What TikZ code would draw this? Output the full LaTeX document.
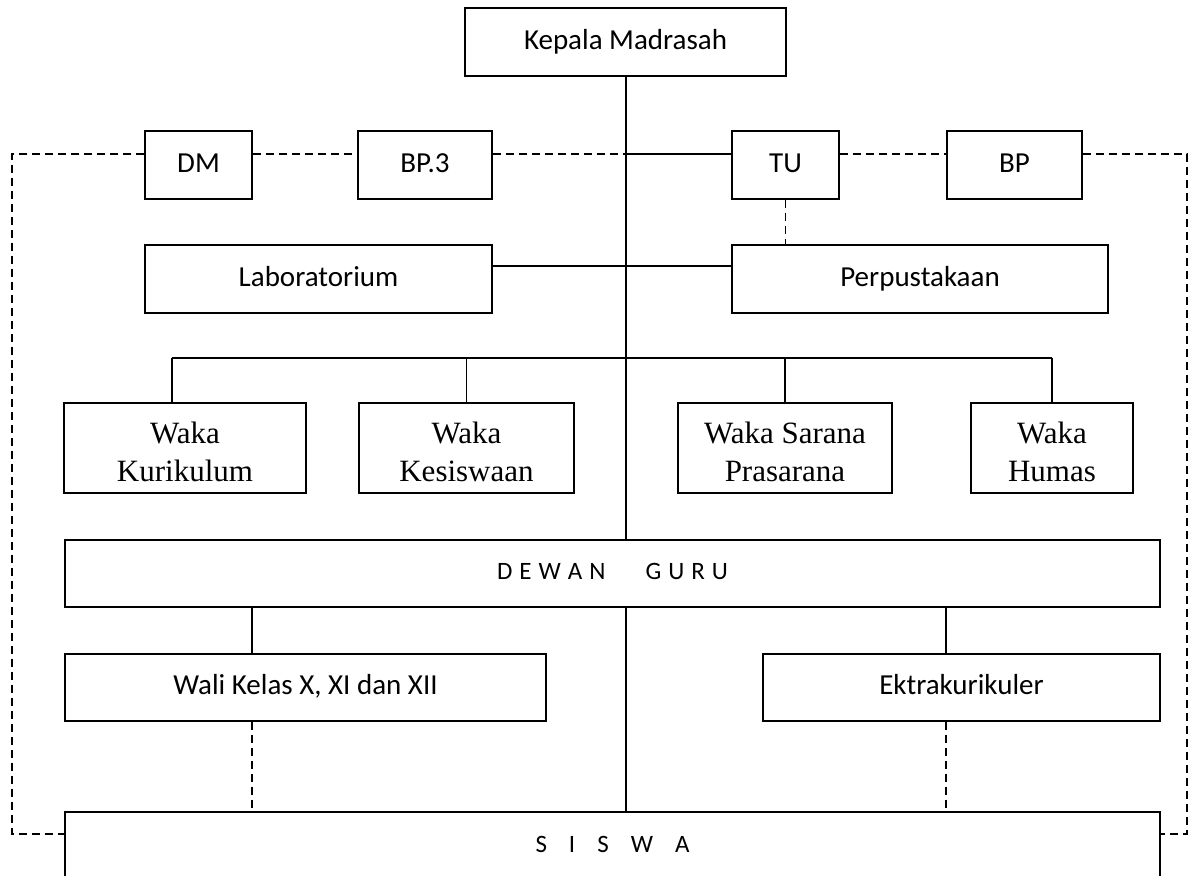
\documentclass[tikz,border=0pt]{standalone}
\usepackage{fontspec}
\setmainfont{Carlito}
\newfontfamily\tnr{Liberation Serif}
\newcommand{\wakatext}[2]{\rule{0pt}{30pt}#1\\#2}
\begin{document}
\begin{tikzpicture}[x=1pt,y=1pt,
  box/.style={draw, line width=1.3pt, inner sep=0pt, align=center,
    font=\fontsize{29}{35}\selectfont, text height=20pt, text depth=6pt},
  waka/.style={draw, line width=1.3pt, inner sep=0pt, align=center,
    font=\tnr\fontsize{31}{38}\selectfont},
  spaced/.style={box, font=\fontsize{25}{30}\selectfont, text height=17pt, text depth=5pt},
  link/.style={line width=1.3pt},
  dlink/.style={line width=1.3pt, dash pattern=on 8pt off 5pt}]
\useasboundingbox (0,0) rectangle (1195,-876);
\clip (0,0) rectangle (1195,-876);
% nodes
\node[box, minimum width=321pt, minimum height=68pt] (kepala) at (625.5,-42) {Kepala Madrasah};
\node[box, minimum width=107pt, minimum height=68pt] (dm) at (198.5,-165) {DM};
\node[box, minimum width=134pt, minimum height=68pt] (bp3) at (425,-165) {BP.3};
\node[box, minimum width=107pt, minimum height=68pt] (tu) at (785.5,-165) {TU};
\node[box, minimum width=135pt, minimum height=68pt] (bp) at (1014.5,-165) {BP};
\node[box, minimum width=347pt, minimum height=68pt] (lab) at (318.5,-279) {Laboratorium};
\node[box, minimum width=376pt, minimum height=68pt] (perp) at (920,-279) {Perpustakaan};
\node[waka, minimum width=242pt, minimum height=90pt] (wk) at (185,-448) {\wakatext{Waka}{Kurikulum}};
\node[waka, minimum width=215pt, minimum height=90pt] (wks) at (466.5,-448) {\wakatext{Waka}{Kesiswaan}};
\node[waka, minimum width=214pt, minimum height=90pt] (wsp) at (785,-448) {\wakatext{Waka Sarana}{Prasarana}};
\node[waka, minimum width=162pt, minimum height=90pt] (wh) at (1052,-448) {\wakatext{Waka}{Humas}};
\node[spaced, minimum width=1095pt, minimum height=67pt] (dewan) at (612.5,-573.5)
  {D\hspace{7pt}E\hspace{7pt}W\hspace{7pt}A\hspace{7pt}N\hspace{40pt}G\hspace{7pt}U\hspace{7pt}R\hspace{7pt}U};
\node[box, minimum width=481pt, minimum height=67pt] (wali) at (305.5,-687.5) {Wali Kelas X, XI dan XII};
\node[box, minimum width=397pt, minimum height=67pt] (ektra) at (961.5,-687.5) {Ektrakurikuler};
\node[spaced, minimum width=1095pt, minimum height=68pt] (siswa) at (612.5,-846)
  {S\hspace{22pt}I\hspace{22pt}S\hspace{22pt}W\hspace{22pt}A};
% helper coordinates
\coordinate (m) at (626,-154);
\coordinate (lt) at (12,-154);
\coordinate (rt) at (1187,-154);
\coordinate (lb) at (12,-834);
\coordinate (rb) at (1187,-834);
\coordinate (ly) at (626,-266);
\coordinate (b1) at (172,-358);
\coordinate (b4) at (1052,-358);
\coordinate (wx) at (252,0);
\coordinate (ex) at (946,0);
% main spine
\draw[link] (kepala.south -| m) -- (dewan.north -| m);
\draw[link] (dewan.south -| m) -- (siswa.north -| m);
% staff row
\draw[dlink] (dm.west |- lt) -- (lt) -- (lb) -- (siswa.west |- lb);
\draw[dlink] (dm.east |- lt) -- (bp3.west |- lt);
\draw[dlink] (bp3.east |- lt) -- (m);
\draw[link] (m) -- (tu.west |- m);
\draw[dlink] (tu.east |- m) -- (bp.west |- m);
\draw[dlink] (bp.east |- m) -- (rt) -- (rb) -- (siswa.east |- rb);
\draw[dlink] (tu.south) -- (perp.north -| tu.south);
% lab / library
\draw[link] (lab.east |- ly) -- (perp.west |- ly);
% waka bus
\draw[link] (b1) -- (b4);
\draw[link] (b1) -- (b1 |- wk.north);
\draw[link] (wks.north |- b1) -- (wks.north);
\draw[link] (wsp.north |- b1) -- (wsp.north);
\draw[link] (b4) -- (wh.north);
% dewan guru to lower boxes
\draw[link] (dewan.south -| wx) -- (wali.north -| wx);
\draw[dlink] (wali.south -| wx) -- (siswa.north -| wx);
\draw[link] (dewan.south -| ex) -- (ektra.north -| ex);
\draw[dlink] (ektra.south -| ex) -- (siswa.north -| ex);
\end{tikzpicture}
\end{document}
